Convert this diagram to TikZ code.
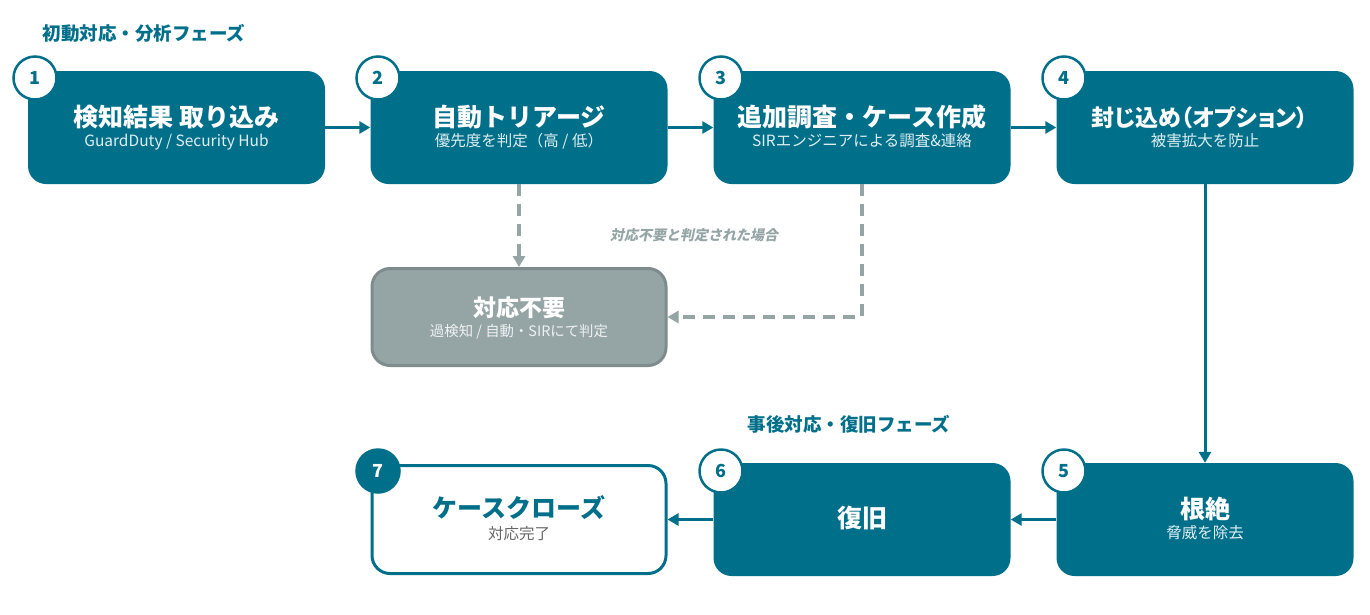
\documentclass[tikz,border=0pt]{standalone}
\usepackage{fontspec}
\setmainfont{Noto Sans CJK JP}
\newfontfamily\slantfont{Noto Sans CJK JP}[FakeSlant=0.2,BoldFeatures={FakeSlant=0.2}]
\usepackage{tikz}
\usetikzlibrary{arrows.meta}
\definecolor{flowteal}{HTML}{006F8A}
\definecolor{skipgray}{HTML}{95A5A6}
\definecolor{skipedge}{HTML}{7F8C8D}
\tikzset{>={Triangle[length=11pt,width=12pt]}}

\begin{document}
\begin{tikzpicture}[x=1pt,y=-1pt,
  stage/.style={rectangle,rounded corners=18pt,fill=flowteal,minimum width=297pt,minimum height=113pt,inner sep=0pt},
  badge/.style={circle,draw=flowteal,line width=2.5pt,fill=white,minimum size=43pt,inner sep=0pt,text=flowteal,font=\bfseries\fontsize{18}{18}\selectfont},
  head/.style={anchor=base,text=white,font=\bfseries\fontsize{25}{25}\selectfont},
  sub/.style={anchor=base,text=white!88!flowteal,font=\fontsize{15.5}{15.5}\selectfont},
  phase/.style={anchor=base west,text=flowteal,font=\bfseries\fontsize{18.5}{18.5}\selectfont},
  flow/.style={->,draw=flowteal,line width=3pt},
  skip/.style={->,draw=skipgray,line width=4pt,dash pattern=on 12pt off 8pt}]

  \useasboundingbox (0,0) rectangle (1370,614);

  % phase labels
  \node[phase] (phase1) at (39,40) {初動対応・分析フェーズ};
  \node[phase] (phase2) at (744,431) {事後対応・復旧フェーズ};

  % top row
  \node[stage] (detect) at (176.5,127.5) {};
  \node[stage] (triage) at (519,127.5) {};
  \node[stage] (invest) at (862,127.5) {};
  \node[stage] (contain) at (1205,127.5) {};

  \node[head] (detect-t) at (176.5,126) {検知結果 取り込み};
  \node[sub] (detect-s) at (176.5,146.5) {GuardDuty / Security Hub};
  \node[head] (triage-t) at (519,126) {自動トリアージ};
  \node[sub] (triage-s) at (519,146.5) {優先度を判定（高 / 低）};
  \node[head] (invest-t) at (862,126) {追加調査・ケース作成};
  \node[sub] (invest-s) at (862,146.5) {SIRエンジニアによる調査\&連絡};
  \node[head,font=\bfseries\fontsize{23}{23}\selectfont\addfontfeatures{RawFeature=+palt}] (contain-t) at (1200,126) {封じ込め（オプション）};
  \node[sub] (contain-s) at (1205,146.5) {被害拡大を防止};

  % no action needed
  \node[stage,fill=skipgray,draw=skipedge,line width=3pt,minimum width=294pt,minimum height=97pt] (noneed) at (519,317) {};
  \node[head,font=\bfseries\fontsize{23}{23}\selectfont] (noneed-t) at (519,316) {対応不要};
  \node[sub,text=white!85!skipgray,font=\fontsize{14.4}{14.4}\selectfont] (noneed-s) at (519,336.5) {過検知 / 自動・SIRにて判定};

  % bottom row
  \node[stage,fill=white,draw=flowteal,line width=3pt,minimum width=294pt,minimum height=108pt] (close) at (519,519.5) {};
  \node[stage] (recover) at (862,519.5) {};
  \node[stage] (erad) at (1205,519.5) {};

  \node[head,text=flowteal] (close-t) at (519,517) {ケースクローズ};
  \node[sub,text=black!60] (close-s) at (519,539) {対応完了};
  \node[head] (recover-t) at (862,527.5) {復旧};
  \node[head] (erad-t) at (1205,518) {根絶};
  \node[sub] (erad-s) at (1205,538.5) {脅威を除去};

  % step numbers
  \node[badge] (n1) at (35,78) {1};
  \node[badge] (n2) at (378,78) {2};
  \node[badge] (n3) at (721,78) {3};
  \node[badge] (n4) at (1064,78) {4};
  \node[badge] (n5) at (1064,471) {5};
  \node[badge] (n6) at (721,471) {6};
  \node[badge,fill=flowteal,text=white] (n7) at (378,471) {7};

  % arrows
  \draw[flow] (detect.east) -- (triage.west);
  \draw[flow] (triage.east) -- (invest.west);
  \draw[flow] (invest.east) -- (contain.west);
  \draw[flow] (contain.south) -- (erad.north);
  \draw[flow] (erad.west) -- (recover.east);
  \draw[flow] (recover.west) -- (close.east);

  \draw[skip] (triage.south) -- (noneed.north);
  \draw[skip] (invest.south) |- (noneed.east);
  \node[text=skipgray,font=\slantfont\bfseries\fontsize{14}{14}\selectfont] (skip-l) at (694,235) {対応不要と判定された場合};

\end{tikzpicture}
\end{document}
